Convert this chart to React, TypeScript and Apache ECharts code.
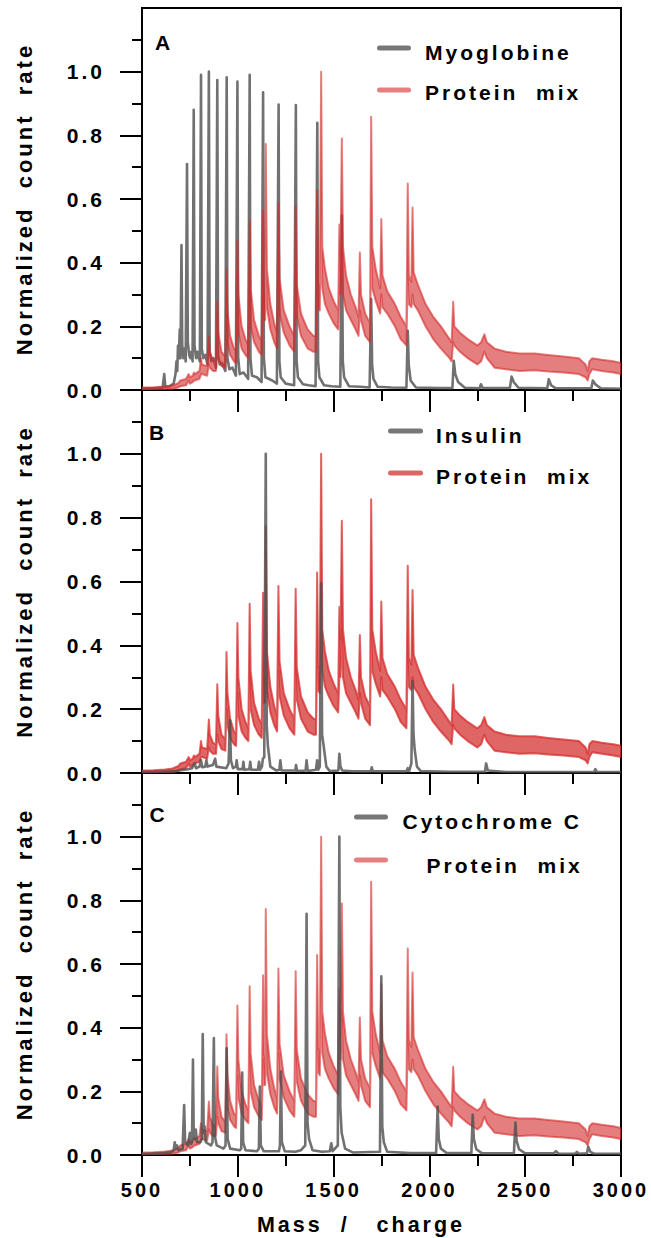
import { useEffect, useRef } from 'react';
import * as echarts from 'echarts';

// ---------- data ----------
const X_MIN = 500;
const X_MAX = 3000;
const X_STEP = 500;
const Y_TICK_VALUES = [0, 0.2, 0.4, 0.6, 0.8, 1.0];

const SERIES_NAMES = ['Myoglobine', 'Insulin', 'Cytochrome C'];
const MIX_NAME = 'Protein  mix';
const PANEL_LETTERS = ['A', 'B', 'C'];
const X_TITLE = 'Mass  /   charge';
const Y_TITLE = 'Normalized  count  rate';

// [m/z, normalized count rate]
const MYOGLOBINE: number[][] = [
  [500, 0.004], [540, 0.005], [580, 0.006], [608, 0.008], [616, 0.05], [622, 0.01], [645, 0.012],
  [665, 0.02], [675, 0.05], [680, 0.09], [684, 0.06], [688, 0.14], [692, 0.1], [697, 0.19], [701, 0.1],
  [706, 0.455], [710, 0.14], [716, 0.1], [722, 0.13], [728, 0.09], [735, 0.71], [739, 0.15], [746, 0.11],
  [752, 0.1], [758, 0.12], [764, 0.09], [770, 0.88], [774, 0.14], [782, 0.1], [790, 0.12], [796, 0.1],
  [802, 0.09], [808, 0.99], [812, 0.13], [820, 0.1], [830, 0.11], [842, 0.08], [849, 1.0], [853, 0.12],
  [862, 0.09], [872, 0.1], [886, 0.07], [893, 0.974], [897, 0.11], [906, 0.08], [918, 0.085], [935, 0.06],
  [942, 0.982], [946, 0.1], [956, 0.065], [972, 0.07], [990, 0.045], [998, 0.969], [1002, 0.1], [1010, 0.05],
  [1030, 0.055], [1054, 0.035], [1062, 0.99], [1066, 0.1], [1074, 0.045], [1100, 0.04], [1124, 0.025],
  [1132, 0.935], [1136, 0.1], [1144, 0.04], [1180, 0.03], [1204, 0.02], [1213, 0.897], [1217, 0.09],
  [1224, 0.04], [1250, 0.02], [1294, 0.015], [1303, 0.895], [1307, 0.09], [1314, 0.04], [1340, 0.018],
  [1370, 0.015], [1406, 0.012], [1415, 0.839], [1419, 0.09], [1426, 0.04], [1450, 0.015], [1490, 0.012],
  [1535, 0.01], [1543, 0.548], [1548, 0.09], [1555, 0.04], [1580, 0.012], [1640, 0.01], [1688, 0.008],
  [1696, 0.286], [1701, 0.08], [1708, 0.035], [1730, 0.01], [1800, 0.008], [1880, 0.007], [1887, 0.186],
  [1892, 0.08], [1902, 0.03], [1930, 0.008], [2050, 0.006], [2120, 0.006], [2127, 0.092], [2135, 0.05],
  [2150, 0.025], [2185, 0.007], [2262, 0.005], [2269, 0.018], [2278, 0.006], [2420, 0.006], [2429, 0.042],
  [2440, 0.025], [2465, 0.007], [2615, 0.005], [2623, 0.034], [2635, 0.015], [2660, 0.005], [2845, 0.005],
  [2853, 0.03], [2866, 0.018], [2895, 0.005], [3000, 0.004],
];

const INSULIN: number[][] = [
  [500, 0.003], [600, 0.004], [680, 0.006], [720, 0.01], [740, 0.012], [760, 0.015], [775, 0.03], [782, 0.015],
  [800, 0.02], [808, 0.04], [814, 0.018], [830, 0.02], [836, 0.04], [842, 0.02], [870, 0.025], [882, 0.045],
  [888, 0.02], [940, 0.015], [952, 0.03], [959, 0.165], [964, 0.04], [975, 0.015], [990, 0.02], [994, 0.04],
  [1000, 0.012], [1025, 0.012], [1029, 0.035], [1034, 0.01], [1060, 0.012], [1065, 0.035], [1070, 0.01],
  [1105, 0.01], [1111, 0.035], [1116, 0.01], [1126, 0.02], [1131, 0.045], [1138, 0.05], [1146, 1.0],
  [1151, 0.15], [1157, 0.085], [1170, 0.02], [1200, 0.008], [1217, 0.01], [1222, 0.04], [1228, 0.008],
  [1300, 0.008], [1304, 0.025], [1310, 0.006], [1354, 0.008], [1359, 0.04], [1365, 0.006], [1408, 0.01],
  [1414, 0.04], [1420, 0.01], [1428, 0.02], [1435, 0.594], [1440, 0.12], [1447, 0.09], [1462, 0.02],
  [1480, 0.006], [1525, 0.008], [1530, 0.06], [1536, 0.02], [1545, 0.008], [1600, 0.005], [1694, 0.005],
  [1699, 0.018], [1705, 0.005], [1880, 0.005], [1887, 0.015], [1894, 0.005], [1906, 0.03], [1912, 0.288],
  [1917, 0.12], [1923, 0.075], [1935, 0.02], [1955, 0.006], [2100, 0.004], [2290, 0.004], [2296, 0.03],
  [2305, 0.008], [2400, 0.003], [2860, 0.003], [2866, 0.012], [2875, 0.003], [3000, 0.003],
];

const CYTOCHROME_C: number[][] = [
  [500, 0.003], [600, 0.005], [650, 0.008], [665, 0.015], [671, 0.04], [676, 0.02], [683, 0.03], [690, 0.015],
  [712, 0.02], [720, 0.157], [725, 0.04], [740, 0.03], [750, 0.07], [756, 0.035], [761, 0.04], [766, 0.3],
  [770, 0.06], [776, 0.05], [781, 0.08], [787, 0.04], [805, 0.04], [812, 0.05], [817, 0.38], [822, 0.07],
  [827, 0.09], [833, 0.04], [860, 0.03], [868, 0.04], [875, 0.367], [880, 0.06], [890, 0.03], [925, 0.02],
  [936, 0.03], [942, 0.335], [947, 0.05], [960, 0.02], [1010, 0.015], [1018, 0.02], [1023, 0.259], [1028, 0.04],
  [1040, 0.015], [1100, 0.012], [1110, 0.02], [1115, 0.215], [1120, 0.03], [1135, 0.012], [1215, 0.012],
  [1220, 0.03], [1225, 0.262], [1230, 0.04], [1245, 0.012], [1300, 0.01], [1330, 0.015], [1352, 0.03],
  [1359, 0.758], [1364, 0.1], [1372, 0.05], [1390, 0.015], [1440, 0.01], [1480, 0.012], [1488, 0.037],
  [1495, 0.012], [1522, 0.03], [1530, 1.0], [1535, 0.15], [1542, 0.07], [1560, 0.02], [1600, 0.008],
  [1742, 0.01], [1749, 0.561], [1754, 0.09], [1762, 0.04], [1780, 0.01], [1900, 0.006], [2035, 0.006],
  [2043, 0.152], [2049, 0.05], [2060, 0.02], [2090, 0.006], [2219, 0.006], [2226, 0.126], [2232, 0.05],
  [2245, 0.018], [2275, 0.005], [2441, 0.005], [2449, 0.102], [2455, 0.045], [2468, 0.018], [2500, 0.005],
  [2650, 0.005], [2660, 0.012], [2675, 0.004], [2760, 0.004], [2770, 0.01], [2780, 0.004], [2822, 0.005],
  [2829, 0.026], [2840, 0.01], [2860, 0.004], [3000, 0.004],
];

// Protein mix: [m/z, lower edge of noise band, upper edge of noise band]
const PROTEIN_MIX: number[][] = [
  [500, 0.0, 0.008], [560, 0.001, 0.009], [620, 0.002, 0.011], [660, 0.004, 0.014], [690, 0.008, 0.022],
  [700, 0.012, 0.03], [730, 0.015, 0.035], [744, 0.03, 0.05], [750, 0.02, 0.04], [765, 0.025, 0.045],
  [771, 0.03, 0.055], [776, 0.03, 0.05], [800, 0.035, 0.06], [808, 0.05, 0.1], [813, 0.05, 0.08],
  [840, 0.045, 0.075], [849, 0.08, 0.168], [854, 0.07, 0.12], [870, 0.06, 0.095], [886, 0.06, 0.09],
  [893, 0.12, 0.278], [898, 0.1, 0.18], [915, 0.075, 0.12], [935, 0.07, 0.105], [941, 0.2, 0.379],
  [946, 0.15, 0.25], [960, 0.11, 0.17], [980, 0.09, 0.13], [991, 0.085, 0.125], [998, 0.25, 0.47],
  [1003, 0.18, 0.3], [1020, 0.13, 0.2], [1040, 0.11, 0.16], [1055, 0.1, 0.14], [1062, 0.3, 0.53],
  [1067, 0.2, 0.32], [1085, 0.15, 0.22], [1110, 0.12, 0.17], [1125, 0.11, 0.155], [1132, 0.3, 0.565],
  [1137, 0.22, 0.32], [1143, 0.22, 0.3], [1146, 0.45, 0.773], [1152, 0.26, 0.38], [1170, 0.19, 0.27],
  [1190, 0.15, 0.21], [1205, 0.13, 0.18], [1212, 0.32, 0.586], [1218, 0.24, 0.35], [1240, 0.18, 0.25],
  [1270, 0.14, 0.2], [1295, 0.12, 0.17], [1302, 0.32, 0.577], [1308, 0.23, 0.33], [1330, 0.17, 0.24],
  [1365, 0.13, 0.19], [1395, 0.12, 0.17], [1408, 0.12, 0.17], [1414, 0.35, 0.628], [1420, 0.26, 0.34],
  [1428, 0.25, 0.33], [1435, 0.55, 1.0], [1441, 0.32, 0.45], [1455, 0.27, 0.38], [1475, 0.24, 0.32],
  [1500, 0.21, 0.28], [1524, 0.19, 0.25], [1530, 0.3, 0.52], [1536, 0.3, 0.42], [1543, 0.45, 0.79],
  [1549, 0.3, 0.45], [1565, 0.25, 0.36], [1590, 0.22, 0.3], [1615, 0.19, 0.26], [1630, 0.17, 0.23],
  [1637, 0.25, 0.432], [1643, 0.22, 0.3], [1665, 0.17, 0.24], [1690, 0.15, 0.21], [1696, 0.45, 0.858],
  [1702, 0.32, 0.45], [1720, 0.28, 0.38], [1743, 0.24, 0.32], [1749, 0.3, 0.537], [1755, 0.26, 0.36],
  [1780, 0.24, 0.31], [1820, 0.2, 0.27], [1850, 0.16, 0.23], [1880, 0.14, 0.2], [1887, 0.35, 0.649],
  [1893, 0.27, 0.36], [1906, 0.26, 0.34], [1912, 0.3, 0.573], [1918, 0.27, 0.37], [1940, 0.25, 0.33],
  [1980, 0.2, 0.27], [2020, 0.16, 0.23], [2060, 0.13, 0.2], [2105, 0.1, 0.16], [2116, 0.09, 0.15],
  [2124, 0.15, 0.277], [2130, 0.14, 0.2], [2160, 0.12, 0.18], [2200, 0.1, 0.16], [2250, 0.08, 0.14],
  [2270, 0.09, 0.15], [2287, 0.12, 0.175], [2300, 0.1, 0.15], [2340, 0.07, 0.13], [2400, 0.065, 0.12],
  [2470, 0.06, 0.115], [2550, 0.062, 0.115], [2620, 0.058, 0.11], [2700, 0.055, 0.105], [2780, 0.05, 0.1],
  [2815, 0.04, 0.08], [2826, 0.03, 0.06], [2835, 0.05, 0.09], [2850, 0.065, 0.1], [2900, 0.06, 0.095],
  [2960, 0.055, 0.09], [3000, 0.05, 0.085],
];

const PANEL_DATA = [MYOGLOBINE, INSULIN, CYTOCHROME_C];

// ---------- layout / style ----------
const FONT = '"Liberation Sans", Arial, sans-serif';
const GRAY = '#4d4d4d';
const RED = '#d42a2a';

const LAYOUT = [
  { top: 8, height: 382, mixOpacity: 0.6, grayOnTop: false, letterX: 155, letterY: 42.5,
    lineX: [377, 411], lineY: [48, 90], textX: [425, 425], textY: [52.5, 92.5], legendRed: '#e68080' },
  { top: 390, height: 383, mixOpacity: 0.72, grayOnTop: true, letterX: 149, letterY: 432,
    lineX: [388, 423], lineY: [431, 473], textX: [436, 436], textY: [435, 476.5], legendRed: '#df6565' },
  { top: 773, height: 382, mixOpacity: 0.6, grayOnTop: true, letterX: 149.5, letterY: 814,
    lineX: [354, 388], lineY: [817, 860], textX: [402.5, 426.5], textY: [821.5, 865], legendRed: '#e68080' },
];

function textEl(text: string, x: number, y: number, size: number, align: string, rotation = 0) {
  return {
    type: 'text',
    x,
    y,
    rotation,
    silent: true,
    style: {
      text,
      fill: '#000',
      font: `bold ${size}px ${FONT}`,
      align,
      verticalAlign: 'middle',
      textAlign: align,
      textVerticalAlign: 'middle',
    },
  };
}

function buildOption() {
  const grid: any[] = [];
  const xAxis: any[] = [];
  const yAxis: any[] = [];
  const series: any[] = [];
  const graphic: any[] = [];

  LAYOUT.forEach((L, i) => {
    grid.push({
      left: 142, right: 30, top: L.top, height: L.height,
      show: true, borderColor: '#000', borderWidth: 2, backgroundColor: 'transparent',
    });
    xAxis.push({
      type: 'value', gridIndex: i, min: X_MIN, max: X_MAX, interval: X_STEP,
      axisLine: { onZero: false, lineStyle: { color: '#000', width: 2 } },
      axisTick: { length: 22, lineStyle: { color: '#000', width: 2 } },
      minorTick: { show: true, splitNumber: 2, length: 11, lineStyle: { color: '#000', width: 2 } },
      splitLine: { show: false },
      minorSplitLine: { show: false },
      axisLabel: {
        show: i === 2, margin: 35, verticalAlign: 'middle',
        fontFamily: FONT, fontWeight: 'bold', fontSize: 20, color: '#000',
        formatter: (v: number) => String(v),
      },
    });
    yAxis.push({
      type: 'value', gridIndex: i, min: 0, max: 1.2, interval: 0.2,
      axisLine: { show: true, onZero: false, lineStyle: { color: '#000', width: 2 } },
      axisTick: { show: true, length: 22, customValues: Y_TICK_VALUES, lineStyle: { color: '#000', width: 2 } },
      minorTick: { show: true, splitNumber: 2, length: 10, lineStyle: { color: '#000', width: 2 } },
      splitLine: { show: false },
      axisLabel: {
        customValues: Y_TICK_VALUES, margin: 37, verticalAlign: 'middle', padding: [0, 0, 15, 0],
        fontFamily: FONT, fontWeight: 'bold', fontSize: 21, color: '#000',
        formatter: (v: number) => v.toFixed(1),
      },
    });

    const grayZ = L.grayOnTop ? 4 : 2;
    const redZ = L.grayOnTop ? 2 : 4;
    series.push({
      type: 'line', name: SERIES_NAMES[i], xAxisIndex: i, yAxisIndex: i,
      data: PANEL_DATA[i], symbol: 'none', showSymbol: false, silent: true, z: grayZ,
      lineStyle: { color: GRAY, width: 2.6, opacity: 0.8, join: 'round' },
    });
    const op = L.mixOpacity;
    series.push({
      type: 'custom', name: 'Protein mix', xAxisIndex: i, yAxisIndex: i, z: redZ, silent: true, clip: true,
      data: PROTEIN_MIX, encode: { x: 0, y: [1, 2] },
      renderItem: (params: any, api: any) => {
        if (params.dataIndex !== 0) return null;
        const upper = PROTEIN_MIX.map((d) => api.coord([d[0], d[2]]));
        const lower = PROTEIN_MIX.map((d) => api.coord([d[0], d[1]])).reverse();
        return {
          type: 'polygon',
          shape: { points: upper.concat(lower) },
          style: { fill: RED, stroke: RED, lineWidth: 2, opacity: op, lineJoin: 'round' },
        };
      },
    });

    graphic.push(textEl(PANEL_LETTERS[i], L.letterX, L.letterY, 21, 'left'));
    const legendColors = ['#777777', L.legendRed];
    const legendTexts = [SERIES_NAMES[i], MIX_NAME];
    for (let k = 0; k < 2; k++) {
      graphic.push({
        type: 'line', silent: true,
        shape: { x1: L.lineX[0] + 2.5, y1: L.lineY[k], x2: L.lineX[1] - 2.5, y2: L.lineY[k] },
        style: { stroke: legendColors[k], lineWidth: 5, lineCap: 'round' },
      });
      graphic.push(textEl(legendTexts[k], L.textX[k], L.textY[k], 21, 'left'));
    }
    graphic.push(textEl(Y_TITLE, 24, L.top + L.height / 2, 22, 'center', Math.PI / 2));
  });

  graphic.push(textEl(X_TITLE, 361, 1225, 21.5, 'center'));

  return { animation: false, backgroundColor: '#fff', grid, xAxis, yAxis, series, graphic };
}

export default function App() {
  const ref = useRef<HTMLDivElement>(null);
  useEffect(() => {
    document.body.style.margin = '0';
    const chart = echarts.init(ref.current!, undefined, { renderer: 'svg' });
    chart.setOption(buildOption() as any);
    return () => chart.dispose();
  }, []);
  return <div ref={ref} style={{ width: 651, height: 1238, letterSpacing: '3px' }} />;
}
